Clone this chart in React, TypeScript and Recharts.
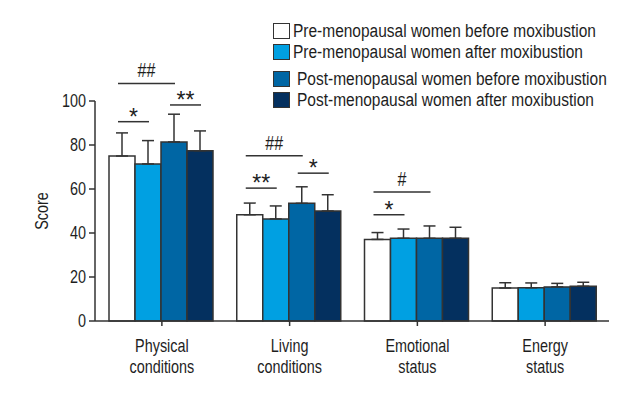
import React from "react";
import { Bar, BarChart, ErrorBar, Legend, Rectangle, XAxis, YAxis } from "recharts";

const categories = ["Physical conditions", "Living conditions", "Emotional status", "Energy status"];
const seriesNames = [
  "Pre-menopausal women before moxibustion",
  "Pre-menopausal women after moxibustion",
  "Post-menopausal women before moxibustion",
  "Post-menopausal women after moxibustion",
];
const preBefore = [75, 48.3, 37.1, 15];
const preBeforeSd = [10.5, 5.3, 3.1, 2.4];
const preAfter = [71.4, 46.4, 37.6, 15.1];
const preAfterSd = [10.6, 5.9, 4.2, 2.2];
const postBefore = [81.4, 53.5, 37.6, 15.5];
const postBeforeSd = [12.6, 7.5, 5.6, 1.6];
const postAfter = [77.4, 50, 37.6, 15.8];
const postAfterSd = [9, 7.4, 5, 1.8];
const yTicks = [0, 20, 40, 60, 80, 100];

// significance brackets: category, from series, to series, height (score units), mark
const sigCategory = [0, 0, 0, 1, 1, 1, 2, 2];
const sigFrom = [0, 0, 2, 0, 0, 2, 0, 0];
const sigTo = [1, 2, 3, 2, 1, 3, 1, 2];
const sigLevel = [90.6, 108, 98.2, 75.1, 60.4, 67.2, 48.3, 58.6];
const sigMark = ["*", "##", "**", "##", "**", "*", "*", "#"];

const colors = ["#ffffff", "#00a0e2", "#0066a4", "#04305f"];
const FONT = "'Liberation Sans', Arial, sans-serif";
const NARROW = 0.8; // the original uses a condensed face
const INK = "#333333";
const TEXT = "#1e1e1e";

const values = [preBefore, preAfter, postBefore, postAfter];
const sds = [preBeforeSd, preAfterSd, postBeforeSd, postAfterSd];

const data = categories.map((name, i) => {
  const row: Record<string, any> = { name };
  values.forEach((v, s) => {
    row[`s${s}`] = v[i];
    row[`e${s}`] = [0, sds[s][i]];
  });
  return row;
});

function AnnotatedBar(props: any) {
  const { x, y, width, height, payload } = props;
  const cat = categories.indexOf(payload.name);
  const bottom = y + height;
  const perUnit = height / payload.s0;
  const toY = (v: number) => bottom - v * perUnit;
  const center = (s: number) => x + width * (s + 0.5);
  return (
    <g>
      <Rectangle {...props} />
      {sigCategory.map((c, k) => {
        if (c !== cat) return null;
        const x1 = center(sigFrom[k]) - 4;
        const x2 = center(sigTo[k]) + 1;
        const ly = toY(sigLevel[k]);
        const star = sigMark[k].startsWith("*");
        const tx = (x1 + x2) / 2;
        const ty = star ? ly + 3 : ly - 6;
        return (
          <g key={k}>
            <line x1={x1} x2={x2} y1={ly} y2={ly} stroke={INK} strokeWidth={1.5} />
            <text
              transform={`translate(${tx} ${ty}) scale(${star ? 1 : NARROW} 1)`}
              textAnchor="middle"
              fontFamily={FONT}
              fontSize={star ? 23 : 20}
              fill={TEXT}
            >
              {sigMark[k]}
            </text>
          </g>
        );
      })}
    </g>
  );
}

function CategoryTick(props: any) {
  const { x, y, payload } = props;
  const words = String(payload.value).split(" ");
  return (
    <g transform={`translate(${x} ${y}) scale(${NARROW} 1)`}>
      <text textAnchor="middle" fontFamily={FONT} fontSize={18} fill={TEXT}>
        {words.map((w, i) => (
          <tspan key={i} x={0} y={24 + i * 21}>
            {w}
          </tspan>
        ))}
      </text>
    </g>
  );
}

function ScoreTick(props: any) {
  const { x, y, payload } = props;
  return (
    <g transform={`translate(${x} ${y}) scale(${NARROW} 1)`}>
      <text textAnchor="end" dy="0.355em" fontFamily={FONT} fontSize={18} fill={TEXT}>
        {payload.value}
      </text>
    </g>
  );
}

function ScoreLabel(props: any) {
  const { viewBox } = props;
  const cx = viewBox.x + 6;
  const cy = viewBox.y + viewBox.height / 2;
  return (
    <g transform={`translate(${cx} ${cy}) rotate(-90) scale(${NARROW} 1)`}>
      <text textAnchor="middle" dominantBaseline="central" fontFamily={FONT} fontSize={18} fill={TEXT}>
        Score
      </text>
    </g>
  );
}

function LegendBox(props: any) {
  const items = [...(props.payload || [])].sort(
    (a: any, b: any) => seriesNames.indexOf(a.value) - seriesNames.indexOf(b.value)
  );
  return (
    <div style={{ position: "relative", width: 640, height: 120, fontFamily: FONT, fontSize: 18, color: TEXT }}>
      {items.map((item: any, i: number) => {
        const mid = i < 2 ? 30.5 + 21.5 * i : 79 + 21 * (i - 2);
        return (
          <div key={i} style={{ position: "absolute", left: 273, top: mid - 11, height: 22, display: "flex", alignItems: "center", whiteSpace: "nowrap" }}>
            <span
              style={{
                display: "inline-block",
                width: 15,
                height: 14,
                background: item.color,
                border: `1.5px solid ${INK}`,
                marginRight: i < 2 ? 3 : 7,
              }}
            />
            <span style={{ display: "inline-block", lineHeight: "22px", transform: "scaleX(0.86)", transformOrigin: "left center" }}>
              {item.value}
            </span>
          </div>
        );
      })}
    </div>
  );
}

export default function App() {
  return (
    <div style={{ position: "absolute", left: 0, top: 0, width: 640, height: 400, background: "#fff" }}>
      <BarChart
        width={640}
        height={400}
        data={data}
        margin={{ top: 101, right: 31, bottom: 19, left: 35 }}
        barCategoryGap={11}
        barGap={0}
      >
        <XAxis
          dataKey="name"
          height={60}
          interval={0}
          padding={{ left: 3, right: 0 }}
          tick={<CategoryTick />}
          tickSize={5}
          axisLine={{ stroke: INK, strokeWidth: 1.5 }}
          tickLine={{ stroke: INK, strokeWidth: 1.5 }}
        />
        <YAxis
          width={60}
          domain={[0, 100]}
          ticks={yTicks}
          interval={0}
          tickSize={6}
          tickMargin={3}
          tick={<ScoreTick />}
          axisLine={{ stroke: INK, strokeWidth: 1.5 }}
          tickLine={{ stroke: INK, strokeWidth: 1.5 }}
          label={<ScoreLabel />}
        />
        <Legend
          layout="vertical"
          align="center"
          verticalAlign="middle"
          wrapperStyle={{ position: "absolute", top: 0, left: 0, width: 640 }}
          content={<LegendBox />}
        />
        {seriesNames.map((name, s) => (
          <Bar
            key={name}
            dataKey={`s${s}`}
            name={name}
            fill={colors[s]}
            stroke={INK}
            strokeWidth={1.5}
            isAnimationActive={false}
            shape={s === 0 ? <AnnotatedBar /> : undefined}
          >
            <ErrorBar dataKey={`e${s}`} width={6} stroke={INK} strokeWidth={1.5} direction="y" />
          </Bar>
        ))}
      </BarChart>
    </div>
  );
}
